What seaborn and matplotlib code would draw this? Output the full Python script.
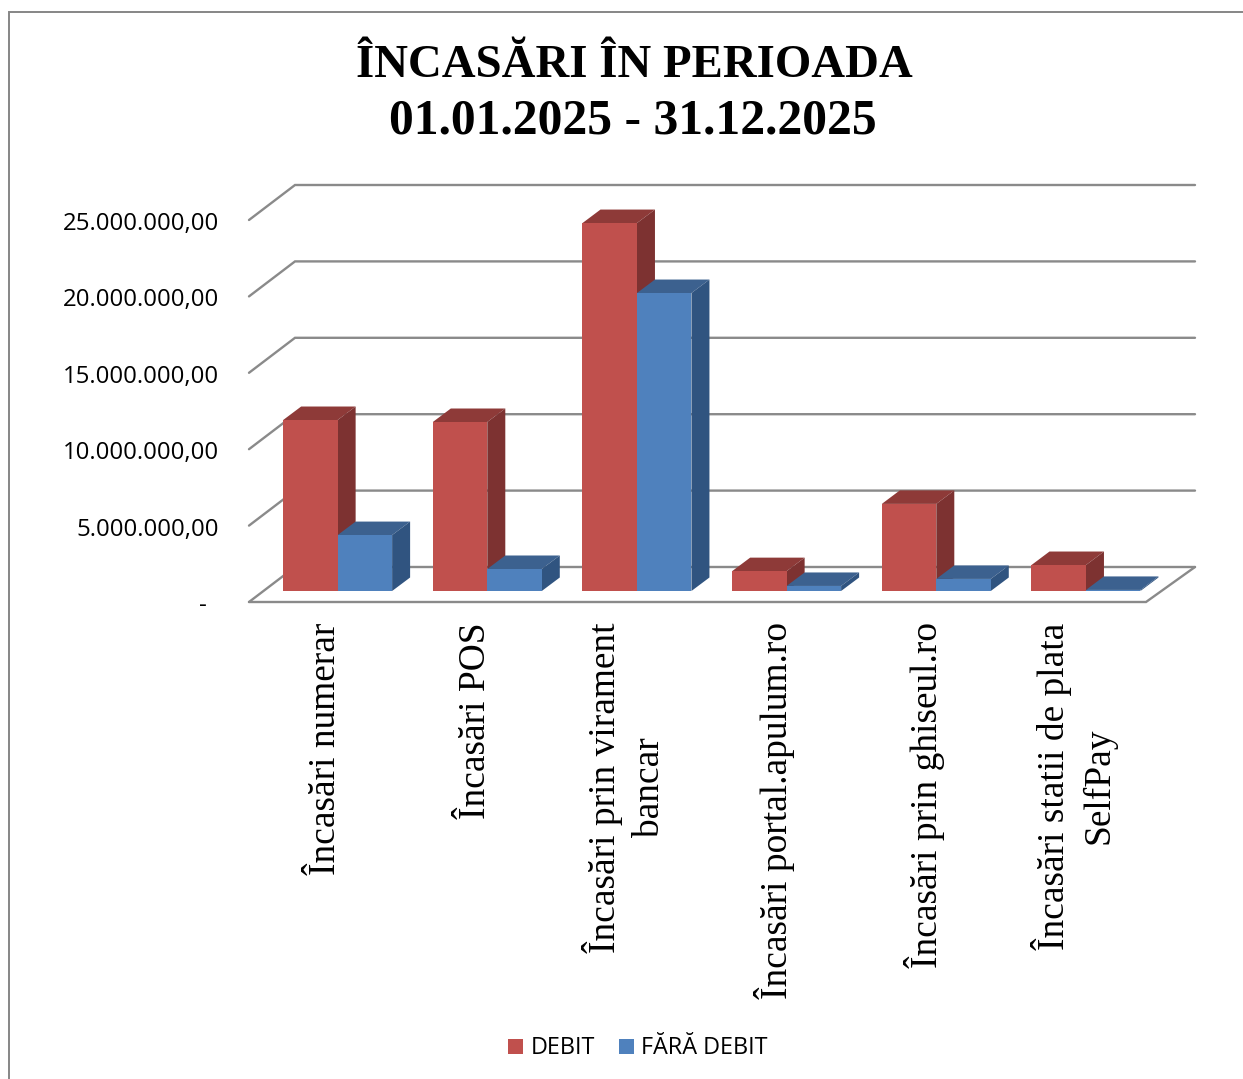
import matplotlib
matplotlib.use("Agg")
import matplotlib.pyplot as plt
from matplotlib.lines import Line2D
from matplotlib.patches import Polygon
from matplotlib.transforms import Affine2D
import pandas as pd
import seaborn as sns

categories = ["Încasări numerar", "Încasări POS", "Încasări prin virament\nbancar",
              "Încasări portal.apulum.ro", "Încasări prin ghiseul.ro",
              "Încasări statii de plata\nSelfPay"]
debit = [11190000, 11060000, 24080000, 1300000, 5700000, 1700000]
fara_debit = [3660000, 1440000, 19500000, 330000, 790000, 70000]
tick_values = [0, 5000000, 10000000, 15000000, 20000000, 25000000]
tick_labels = ["-", "5.000.000,00", "10.000.000,00", "15.000.000,00",
               "20.000.000,00", "25.000.000,00"]
series_names = ["DEBIT", "FĂRĂ DEBIT"]

W, H = 1243, 1079
RED, RED_TOP, RED_SIDE = "#C0504D", "#8E3A38", "#7D3231"
BLUE, BLUE_TOP, BLUE_SIDE = "#4F81BD", "#3C618F", "#305480"
GRID = "#8A8A8A"

df = pd.DataFrame({
    "cat": categories * 2,
    "val": debit + fara_debit,
    "serie": [series_names[0]] * 6 + [series_names[1]] * 6,
})

sns.set_style("white")
plt.rcParams["font.family"] = ["Open Sans", "DejaVu Sans"]

fig = plt.figure(figsize=(W / 100, H / 100), dpi=100)
# axes = plane of the bar fronts
ax = fig.add_axes([262.8 / W, (H - 591) / H, 898 / W, 382 / H])
sns.barplot(data=df, x="cat", y="val", hue="serie", hue_order=series_names,
            palette=[RED, BLUE], saturation=1, width=0.728, gap=0, linewidth=0, ax=ax)
ax.set_xlim(-0.5, 5.5)
ax.set_ylim(0, 25000000)
sns.despine(ax=ax, left=True, bottom=True)
ax.patch.set_alpha(0)
ax.set_xlabel("")
ax.set_ylabel("")

# one pixel in data units
px = 6 / 898
py = 25000000 / 382

# walls and floor lines
x_front_l = -0.5 + (249 - 262.8) * px
x_back_l = -0.5 + (295 - 262.8) * px
x_back_r = -0.5 + (1195 - 262.8) * px
x_front_r = -0.5 + (1146 - 262.8) * px
for v in tick_values:
    ax.plot([x_front_l, x_back_l, x_back_r],
            [v - 11 * py, v + 24 * py, v + 24 * py],
            color=GRID, lw=1.7, zorder=0.5, clip_on=False, solid_joinstyle="miter")
ax.plot([x_back_r, x_front_r, x_front_l], [24 * py, -11 * py, -11 * py],
        color=GRID, lw=1.7, zorder=0.5, clip_on=False, solid_joinstyle="miter")

# fake 3d faces on each bar
depth_x = 18 * px
depth_y = 13.5 * py
styles = [(RED_TOP, RED_SIDE, 2), (BLUE_TOP, BLUE_SIDE, 3)]
for container, (c_top, c_side, z) in zip(ax.containers, styles):
    for bar in container:
        x0 = bar.get_x()
        x1 = x0 + bar.get_width()
        h = bar.get_height()
        ax.add_patch(Polygon([(x0, h), (x1, h), (x1 + depth_x, h + depth_y), (x0 + depth_x, h + depth_y)],
                             closed=True, fc=c_top, ec="none", zorder=z, clip_on=False))
        ax.add_patch(Polygon([(x1, 0), (x1 + depth_x, depth_y), (x1 + depth_x, h + depth_y), (x1, h)],
                             closed=True, fc=c_side, ec="none", zorder=z, clip_on=False))
        bar.set_zorder(4)
        bar.set_clip_on(False)
        bar.set_edgecolor("none")

ax.set_yticks(tick_values)
ax.set_yticklabels(tick_labels, fontsize=17.3, color="black")
ax.tick_params(axis="y", length=0, pad=31.5)
ax.set_xticks(range(6))
ax.set_xticklabels(categories, rotation=90, ha="center", va="top", multialignment="center",
                   family="Liberation Serif", fontsize=26.9, linespacing=1.36, color="black")
ax.tick_params(axis="x", length=0, pad=22.5)

# tick labels sit on the front edge, not on the bar plane
for lab in ax.get_yticklabels():
    shift = -12 if lab.get_text() == "-" else 0
    lab.set_transform(lab.get_transform() + Affine2D().translate(shift, -12))
for lab in ax.get_xticklabels():
    lab.set_transform(lab.get_transform() + Affine2D().translate(-12, 0))

fig.text(634 / W, 1 - 66 / H, "ÎNCASĂRI ÎN PERIOADA", ha="center", va="center",
         family="Liberation Serif", fontweight="bold", fontsize=33.7, color="black")
fig.text(633 / W, 1 - 122 / H, "01.01.2025 - 31.12.2025", ha="center", va="center",
         family="Liberation Serif", fontweight="bold", fontsize=35.7, color="black")

sns.move_legend(ax, "center", bbox_to_anchor=(638 / W, 1 - 1048.5 / H),
                bbox_transform=fig.transFigure, ncol=2, frameon=False, title=None,
                fontsize=16.8, handlelength=0.64, handleheight=0.64,
                handletextpad=0.32, columnspacing=1.02, labelcolor="black")

# chart frame, cut by the page on the right and bottom
fig.add_artist(Line2D([9 / W, 9 / W, 1], [0, 1 - 12 / H, 1 - 12 / H], color="#868686", lw=1.4,
                      solid_joinstyle="miter"))

fig.savefig("out.png", dpi=100)
